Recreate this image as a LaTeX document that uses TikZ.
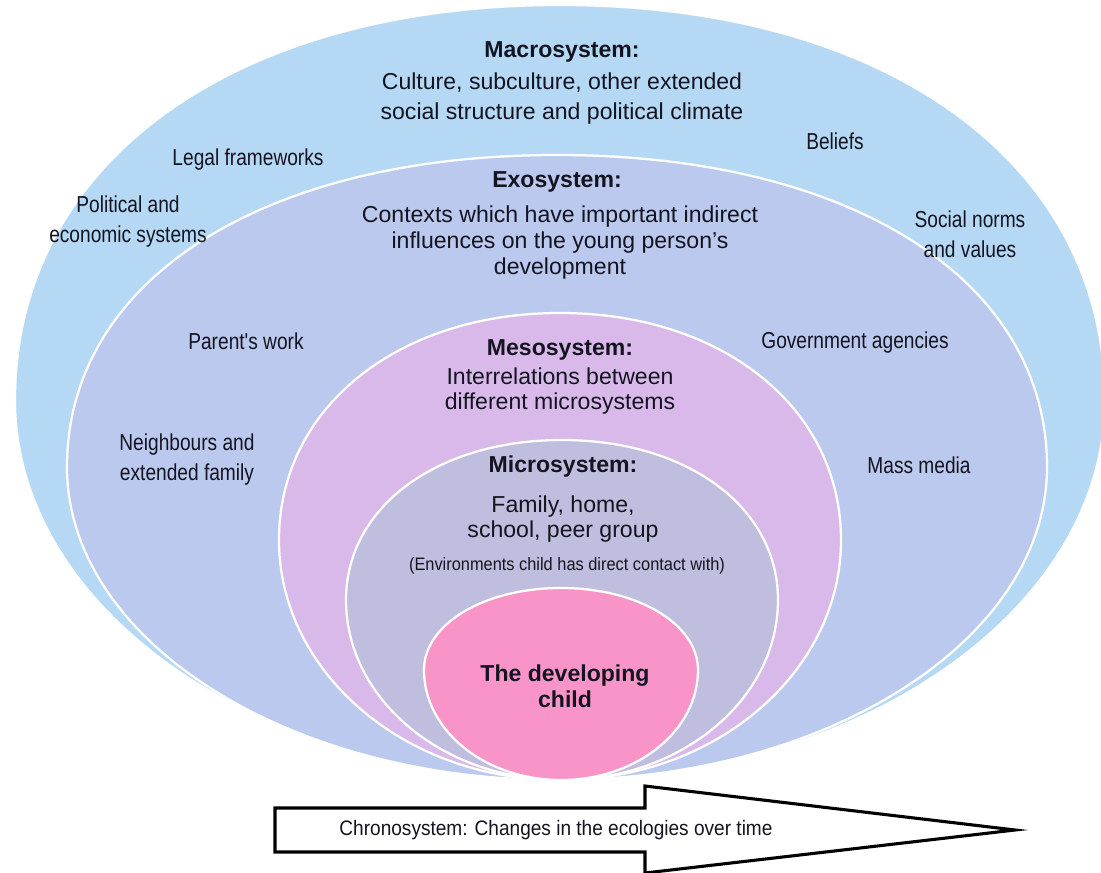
\documentclass[tikz,border=0pt]{standalone}
\usepackage{fontspec}
\setmainfont{Liberation Sans}
\newfontfamily\narrowfont[FakeStretch=0.83]{Liberation Sans}
\newfontfamily\envfont[FakeStretch=0.91]{Liberation Sans}
\definecolor{macroc}{HTML}{B5D9F5}
\definecolor{exoc}{HTML}{BBC9EE}
\definecolor{mesoc}{HTML}{D8B9EA}
\definecolor{microc}{HTML}{C0BEDF}
\definecolor{childc}{HTML}{F994C9}
\definecolor{txt}{HTML}{141420}
% egg: cx, cy(widest), rx, top, bottom, k top, k bottom
\newcommand\eggshape[7]{({#1-#3},{#2}) .. controls ({#1-#3},{#2-#6*(#2-#4)}) and ({#1-#6*#3},{#4}) .. ({#1},{#4})
 .. controls ({#1+#6*#3},{#4}) and ({#1+#3},{#2-#6*(#2-#4)}) .. ({#1+#3},{#2})
 .. controls ({#1+#3},{#2+#7*(#5-#2)}) and ({#1+#7*#3},{#5}) .. ({#1},{#5})
 .. controls ({#1-#7*#3},{#5}) and ({#1-#3},{#2+#7*(#5-#2)}) .. cycle}
\tikzset{
  ring/.style={draw=white, line width=1.6pt},
  title/.style={font=\fontsize{16.4}{19}\selectfont\bfseries, text=txt, inner sep=0pt},
  body/.style={font=\fontsize{16.4}{#1}\selectfont, text=txt, align=center, inner sep=0pt},
  side/.style={font=\narrowfont\fontsize{16.4}{21.3}\selectfont, text=txt, align=center, inner sep=0pt},
}
\begin{document}
\begin{tikzpicture}[x=0.025cm, y=-0.025cm]
\useasboundingbox (0,0) rectangle (1101,873);
\begin{scope}
\clip (0,0) rectangle (1101,873);
\fill[macroc, ring] \eggshape{560}{400}{545}{5}{780}{0.6}{0.552};
\end{scope}
\fill[exoc, ring] \eggshape{557}{467}{490}{155}{780}{0.6}{0.552};
\fill[mesoc, ring] \eggshape{560}{540}{281}{313}{780}{0.58}{0.552};
\fill[microc, ring] \eggshape{562}{600}{216}{440}{780}{0.58}{0.552};
\fill[childc, ring] \eggshape{561}{670}{137}{588}{780}{0.56}{0.552};

% Macrosystem
\node[title] (macT) at (562,52) {Macrosystem:};
\node[body=21.3pt] (macB) at (562,99) {Culture, subculture, other extended\\social structure and political climate};
\node[side] (legal) at (248,160) {Legal frameworks};
\node[side] (beliefs) at (835,141) {Beliefs};
\node[side] (polit) at (128,222) {Political and\\economic systems};
\node[side] (norms) at (970,234) {Social norms\\and values};

% Exosystem
\node[title] (exoT) at (557,182) {Exosystem:};
\node[body=18.5pt] (exoB) at (560,243) {Contexts which have important indirect\\influences on the young person's\\development};
\node[side] (parent) at (246,341) {Parent's work};
\node[side] (gov) at (855,343) {Government agencies};
\node[side] (neigh) at (187,460) {Neighbours and\\extended family};
\node[side] (media) at (919,465) {Mass media};

% Mesosystem
\node[title] (mesT) at (560,350) {Mesosystem:};
\node[body=17.8pt] (mesB) at (560,391) {Interrelations between\\different microsystems};

% Microsystem
\node[title] (micT) at (563,467) {Microsystem:};
\node[body=17.8pt] (micB) at (563,519) {Family, home,\\school, peer group};
\node[font=\envfont\fontsize{12.8}{15}\selectfont, text=txt, inner sep=0pt] (env) at (567,566) {(Environments child has direct contact with)};

% Child
\node[title, align=center, font=\fontsize{16.4}{18.5}\selectfont\bfseries] (child) at (565,686) {The developing\\child};

% Chronosystem arrow
\coordinate (a1) at (275,808);
\coordinate (a2) at (645,808);
\coordinate (a3) at (645,786);
\coordinate (tip) at (1015,830);
\coordinate (a5) at (645,873);
\coordinate (a6) at (645,852);
\coordinate (a7) at (275,852);
\draw[line width=2.2pt, fill=white, line join=miter] (a1) -- (a2) -- (a3) -- (tip) -- (a5) -- (a6) -- (a7) -- cycle;
\node[font=\envfont\fontsize{14.9}{17}\selectfont, text=txt, inner sep=0pt] (chrono) at (556,830) {Chronosystem: Changes in the ecologies over time};
\end{tikzpicture}
\end{document}
